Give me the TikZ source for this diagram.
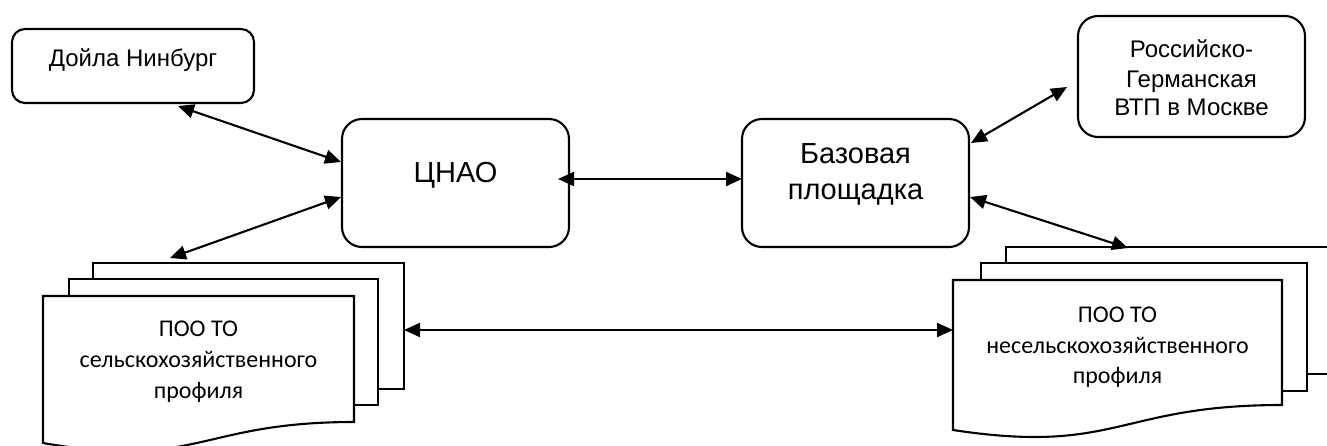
\documentclass[tikz,border=0pt]{standalone}
\usepackage{fontspec}
\setmainfont{Liberation Sans}
\newfontfamily\carl{Carlito}
\usetikzlibrary{arrows.meta}
\begin{document}
\begin{tikzpicture}[x=1pt,y=-1pt,
  box/.style={draw, line width=2.1pt, rounded corners=20pt, inner sep=0pt},
  sheet/.style={draw, line width=2.1pt, fill=white, line join=miter},
  link/.style={line width=2.1pt, {Triangle[length=16pt,width=14pt]}-{Triangle[length=16pt,width=14pt]}},
  txtS/.style={font=\fontsize{24}{28}\selectfont, anchor=base, inner sep=0pt},
  txtL/.style={font=\fontsize{29}{34}\selectfont, anchor=base, inner sep=0pt},
  txtD/.style={font=\carl\fontsize{24}{28}\selectfont, anchor=base, inner sep=0pt}]
\useasboundingbox (0,0) rectangle (1327,445);
\fill[white] (0,0) rectangle (1327,445);
\clip (0,0) rectangle (1327,445);

% rounded boxes
\node[box, rounded corners=13pt, minimum width=242pt, minimum height=74pt] (doyla) at (133,66) {};
\node[txtS] (tdoyla) at (133,66) {Дойла Нинбург};

\node[box, minimum width=227pt, minimum height=128pt] (cnao) at (455.5,183) {};
\node[txtL] (tcnao) at (455.5,182) {ЦНАО};

\node[box, minimum width=227pt, minimum height=128pt] (baza) at (855.5,183) {};
\node[txtL] (tbaza1) at (855.5,163) {Базовая};
\node[txtL] (tbaza2) at (855.5,199) {площадка};

\node[box, minimum width=227pt, minimum height=121pt] (rus) at (1191.5,76.5) {};
\node[txtS] (trus1) at (1191.5,57) {Российско-};
\node[txtS] (trus2) at (1191.5,87) {Германская};
\node[txtS] (trus3) at (1191.5,115) {ВТП в Москве};

% left document stack
\draw[sheet] (93,263) rectangle (404,389);
\draw[sheet] (69,279) rectangle (378,405);
\draw[sheet] (43,296) -- (354,296) -- (354,422) .. controls (198.5,422) and (198.5,470) .. (43,443) -- cycle;
\node[txtD] (tl1) at (198.5,336) {ПОО ТО};
\node[txtD] (tl2) at (198.5,367) {сельскохозяйственного};
\node[txtD] (tl3) at (198.5,398) {профиля};

% right document stack
\draw[sheet] (1006,247) rectangle (1338,374);
\draw[sheet] (981,263) rectangle (1307,391);
\draw[sheet] (953,280) -- (1282,280) -- (1282,405) .. controls (1117.5,405) and (1117.5,455) .. (953,430) -- cycle;
\node[txtD] (tr1) at (1117.5,322) {ПОО ТО};
\node[txtD] (tr2) at (1117.5,353) {несельскохозяйственного};
\node[txtD] (tr3) at (1117.5,383) {профиля};

% connector end points
\coordinate (dS) at (178,106);
\coordinate (cW1) at (341,162);
\coordinate (cW2) at (341,197);
\coordinate (lTop) at (170,258);
\coordinate (cE) at (558,179);
\coordinate (bW) at (742,179);
\coordinate (bE1) at (971,143);
\coordinate (rW) at (1067,87);
\coordinate (bE2) at (970,197);
\coordinate (rTop) at (1128,248);
\coordinate (lR) at (404,330);
\coordinate (rL) at (953,330);

\draw[link] (dS) -- (cW1);
\draw[link] (cW2) -- (lTop);
\draw[link] (cE) -- (bW);
\draw[link] (bE1) -- (rW);
\draw[link] (bE2) -- (rTop);
\draw[link] (lR) -- (rL);
\end{tikzpicture}
\end{document}
